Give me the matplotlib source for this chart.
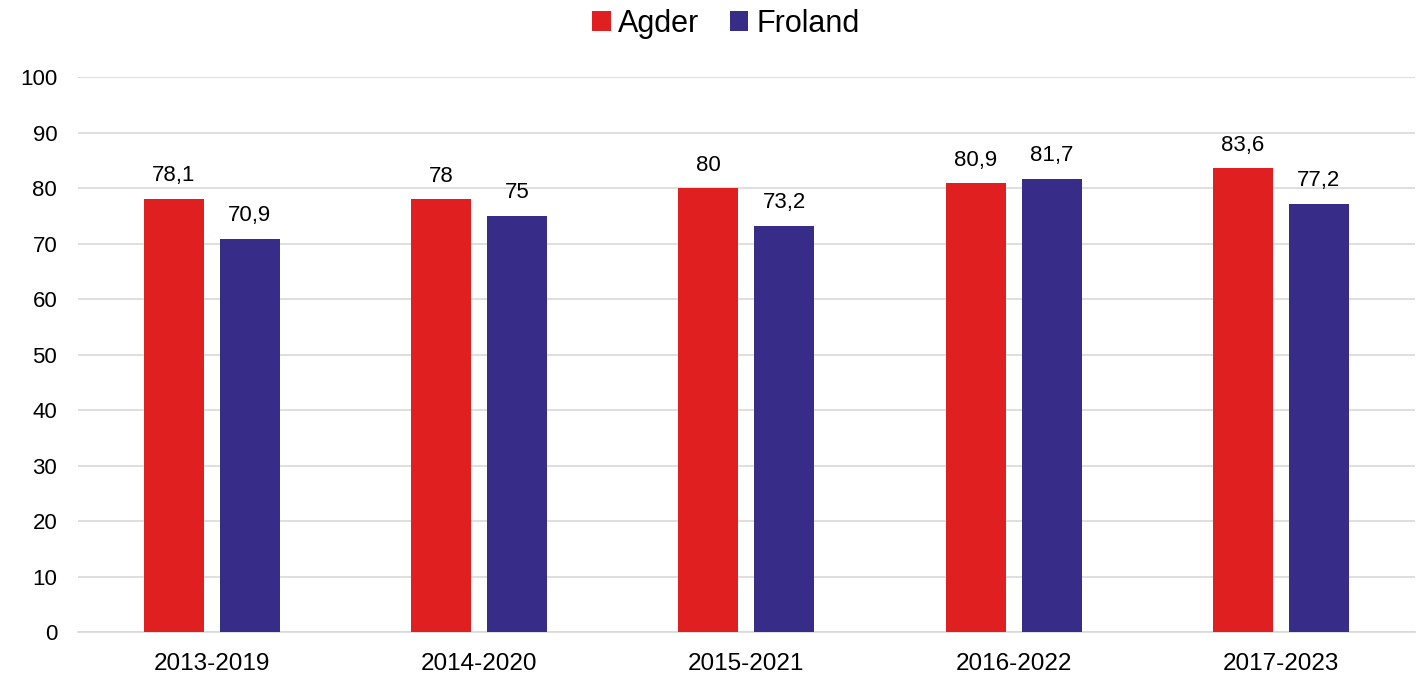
import numpy as np
import matplotlib
matplotlib.use("Agg")
from matplotlib import pyplot as plt

plt.rcParams['font.family'] = ['Liberation Sans', 'DejaVu Sans']

periods = ["2013-2019", "2014-2020", "2015-2021", "2016-2022", "2017-2023"]
agder = [78.1, 78, 80, 80.9, 83.6]
froland = [70.9, 75, 73.2, 81.7, 77.2]
yticks = [0, 10, 20, 30, 40, 50, 60, 70, 80, 90, 100]

red = "#E02020"
navy = "#372C88"

fig = plt.figure(figsize=(14.26, 6.76), dpi=100)
ax = fig.add_axes([0.0547, 0.065, 0.9373, 0.821])

x = np.arange(len(periods))
w = 0.224
b1 = ax.bar(x - 0.142, agder, w, color=red, label="Agder", zorder=3)
b2 = ax.bar(x + 0.142, froland, w, color=navy, label="Froland", zorder=3)

def fmt(v):
    s = ("%g" % v).replace(".", ",")
    return s

for bars, vals in ((b1, agder), (b2, froland)):
    for r, v in zip(bars, vals):
        ax.annotate(fmt(v), (r.get_x() + r.get_width() / 2, v), xytext=(0, 9),
                    textcoords="offset points", ha="center", va="bottom", fontsize=16)

ax.set_xlim(-0.5, 4.5)
ax.set_ylim(0, 100)
ax.set_yticks(yticks)
ax.set_xticks(x)
ax.set_xticklabels(periods)
ax.tick_params(axis="y", length=0, labelsize=16, pad=15)
ax.tick_params(axis="x", length=0, labelsize=17.5, pad=15)
ax.grid(axis="y", color="#D9D9D9", linewidth=1.2, zorder=0)
for s in ["top", "right", "left"]:
    ax.spines[s].set_visible(False)
ax.spines["bottom"].set_color("#D9D9D9")
ax.spines["bottom"].set_linewidth(1.2)

fig.legend(loc="upper center", bbox_to_anchor=(0.509, 1.028), ncol=2, frameon=False,
           fontsize=22, handlelength=0.6, handleheight=0.6, handletextpad=0.25,
           columnspacing=1.0)

fig.savefig("out.png", dpi=100)
